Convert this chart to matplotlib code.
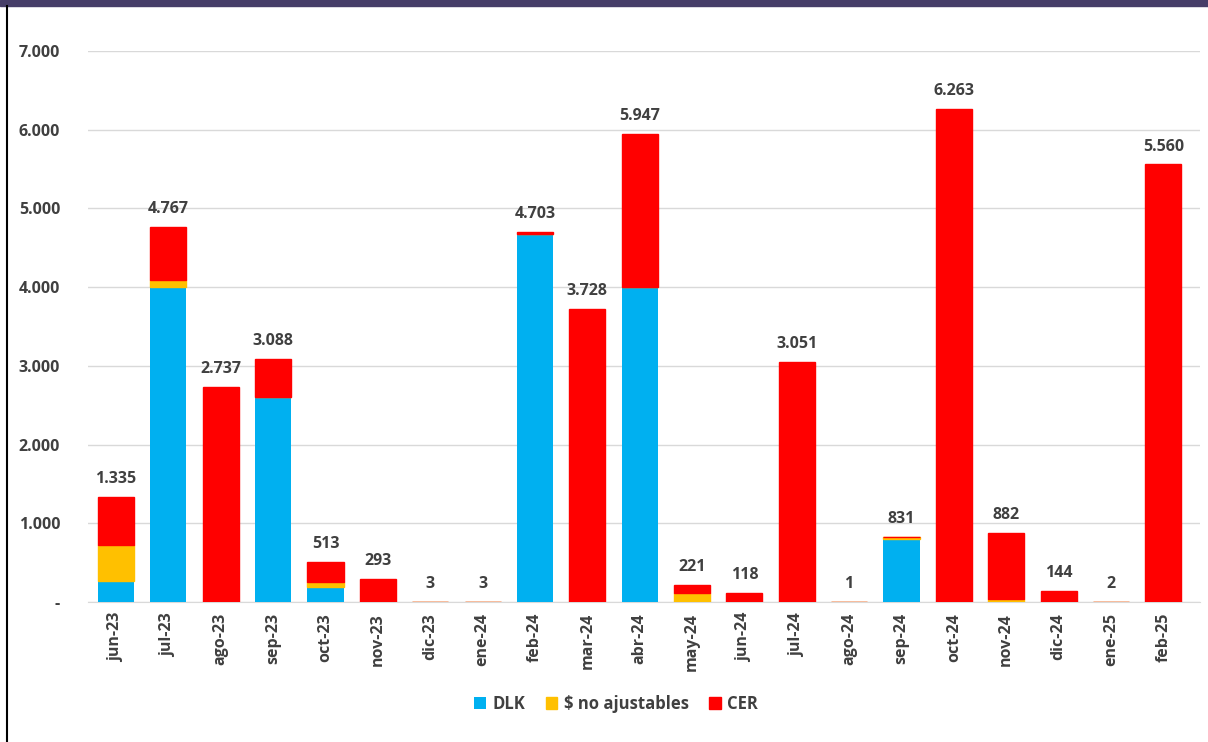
import matplotlib.pyplot as plt
from matplotlib.patches import Rectangle
from matplotlib.lines import Line2D
from matplotlib.ticker import FuncFormatter

plt.rcParams['font.family'] = ['Open Sans', 'DejaVu Sans']

months = ['jun-23', 'jul-23', 'ago-23', 'sep-23', 'oct-23', 'nov-23', 'dic-23',
          'ene-24', 'feb-24', 'mar-24', 'abr-24', 'may-24', 'jun-24', 'jul-24',
          'ago-24', 'sep-24', 'oct-24', 'nov-24', 'dic-24', 'ene-25', 'feb-25']
dlk = [270, 4000, 0, 2600, 190, 0, 0, 0, 4670, 0, 4000, 0, 0, 0, 0, 800, 0, 0, 0, 0, 0]
no_ajust = [455, 90, 0, 0, 64, 0, 0, 0, 0, 0, 0, 120, 0, 0, 1, 31, 0, 38, 0, 2, 0]
cer = [610, 677, 2737, 488, 259, 293, 3, 3, 33, 3728, 1947, 101, 118, 3051, 0, 0, 6263, 844, 144, 0, 5560]
totals = [1335, 4767, 2737, 3088, 513, 293, 3, 3, 4703, 3728, 5947, 221, 118, 3051, 1, 831, 6263, 882, 144, 2, 5560]

c_dlk = '#00B0F0'
c_no = '#FFC000'
c_cer = '#FF0000'
txt = '#404040'

fig = plt.figure(figsize=(12.08, 7.42), dpi=100)
ax = fig.add_axes([88 / 1208, 140 / 742, 1112 / 1208, 551 / 742])

x = list(range(len(months)))
w = 0.69
lw = 1.0
ax.bar(x, dlk, w, color=c_dlk, edgecolor=c_dlk, linewidth=0, zorder=3,
       label='DLK')
ax.bar(x, no_ajust, w, bottom=dlk, color=c_no, edgecolor=c_no, linewidth=lw,
       zorder=3, label='$ no ajustables')
base = [a + b for a, b in zip(dlk, no_ajust)]
ax.bar(x, cer, w, bottom=base, color=c_cer, edgecolor=c_cer, linewidth=lw,
       zorder=3, label='CER')

for xi, t in zip(x, totals):
    ax.annotate(f'{t:,}'.replace(',', '.'), (xi, t), xytext=(0, 7),
                textcoords='offset points', ha='center', va='bottom',
                fontsize=11.5, fontweight='bold', color=txt)

ax.set_ylim(0, 7000)
ax.set_xlim(-0.535, 20.7)
ax.set_yticks(range(0, 7001, 1000))
ax.yaxis.set_major_formatter(FuncFormatter(
    lambda v, p: '-' if v == 0 else f'{int(v):,}'.replace(',', '.')))
ax.set_xticks(x)
ax.set_xticklabels(months, rotation=90)
ax.tick_params(axis='y', length=0, pad=20, labelsize=11.5, labelcolor=txt)
ax.tick_params(axis='x', length=0, pad=8, labelsize=11.5, labelcolor=txt)
for lab in ax.get_xticklabels() + ax.get_yticklabels():
    lab.set_fontweight('bold')
ax.grid(axis='y', color='#D9D9D9', linewidth=1, zorder=0)
for s in ['top', 'right', 'left']:
    ax.spines[s].set_visible(False)
ax.spines['bottom'].set_color('#D9D9D9')

leg = ax.legend(loc='center', bbox_to_anchor=(0.475, -0.185), ncol=3,
                frameon=False, handlelength=0.7, handleheight=0.7,
                handletextpad=0.4, columnspacing=1.2,
                prop={'weight': 'bold', 'size': 12})
for t in leg.get_texts():
    t.set_color(txt)

# frame decorations
fig.patches.append(Rectangle((0, 736 / 742), 1, 6 / 742, transform=fig.transFigure,
                             color='#463E68', zorder=0))
fig.lines.append(Line2D([7 / 1208, 7 / 1208], [0, 736 / 742], transform=fig.transFigure,
                        color='black', linewidth=1.5))

fig.savefig('out.png', dpi=100)
